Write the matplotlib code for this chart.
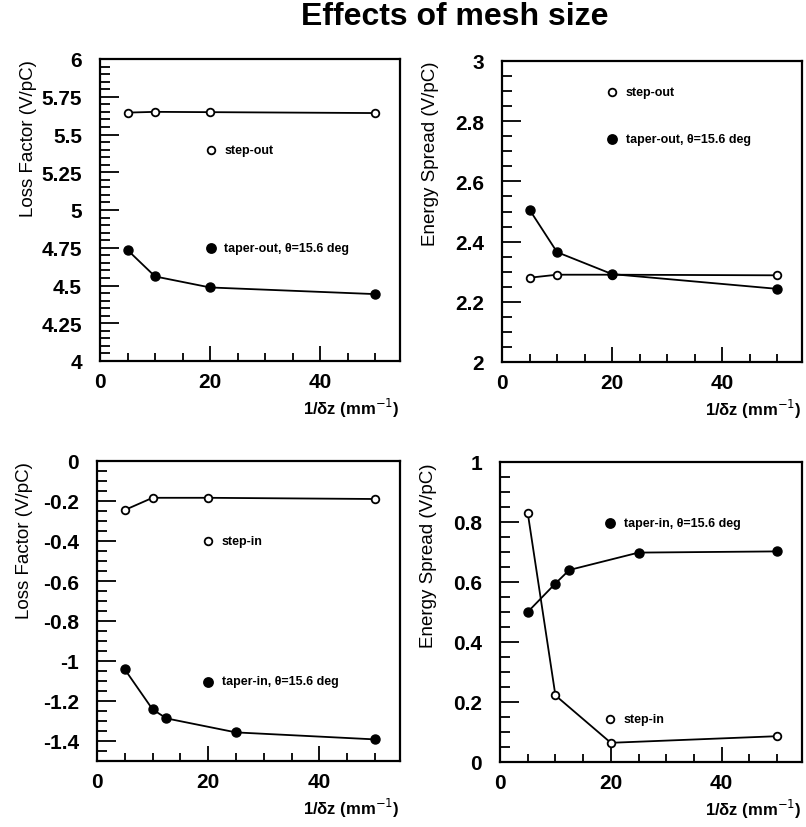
#!/usr/bin/python3

import numpy as np
import matplotlib.pyplot as plt
from matplotlib.ticker import MultipleLocator

plt.rcParams['font.family'] = ['Liberation Sans', 'DejaVu Sans']

### mesh data: 1/dz values and wake results
x_out = [5, 10, 20, 50]
step_out_loss = [5.645, 5.65, 5.648, 5.642]
taper_out_loss = [4.735, 4.56, 4.487, 4.443]
step_out_spread = [2.28, 2.29, 2.29, 2.288]
taper_out_spread = [2.506, 2.365, 2.292, 2.243]

x_step_in = [5, 10, 20, 50]
x_taper_in = [5, 10, 12.5, 25, 50]
step_in_loss = [-0.245, -0.184, -0.184, -0.19]
taper_in_loss = [-1.042, -1.242, -1.287, -1.357, -1.392]
step_in_spread = [0.831, 0.222, 0.064, 0.086]
taper_in_spread = [0.5, 0.595, 0.64, 0.698, 0.702]

xlabel = '1/δz (mm$^{-1}$)'
lab_open_out = 'step-out'
lab_fill_out = 'taper-out, θ=15.6 deg'
lab_open_in = 'step-in'
lab_fill_in = 'taper-in, θ=15.6 deg'


def setup_axis(ax, ylim, ymajor, yminor, ylabel, yfmt):
    ax.set_xlim(0, 54.5)
    ax.set_ylim(*ylim)
    ax.xaxis.set_major_locator(MultipleLocator(20))
    ax.xaxis.set_minor_locator(MultipleLocator(5))
    ax.yaxis.set_major_locator(MultipleLocator(ymajor))
    ax.yaxis.set_minor_locator(MultipleLocator(yminor))
    ax.yaxis.set_major_formatter(plt.FuncFormatter(yfmt))
    ax.tick_params(which='both', direction='in', width=1.3)
    ax.tick_params(axis='y', which='major', length=14, pad=13, labelsize=15)
    ax.tick_params(axis='y', which='minor', length=7)
    ax.tick_params(axis='x', which='major', length=11, pad=8, labelsize=15)
    ax.tick_params(axis='x', which='minor', length=6)
    for t in ax.get_xticklabels() + ax.get_yticklabels():
        t.set_fontweight('bold')
    for sp in ax.spines.values():
        sp.set_linewidth(1.6)
    ax.set_ylabel(ylabel, fontsize=13.5, loc='top')
    ax.yaxis.set_label_coords(-0.21, 1.0)
    ax.text(1.0, -0.115, xlabel, transform=ax.transAxes, ha='right', va='top',
            fontsize=12, fontweight='bold')


def series(ax, x, y, filled):
    if filled:
        ax.plot(x, y, '-o', color='k', lw=1.3, ms=6.5, mfc='k')
    else:
        ax.plot(x, y, '-o', color='k', lw=1.3, ms=5.5, mfc='white', mew=1.3)


def key(ax, fx, fy, label, filled):
    ax.plot(fx, fy, 'o', color='k', ms=6.5 if filled else 5.5,
            mfc='k' if filled else 'white', mew=1.3, transform=ax.transAxes)
    ax.text(fx + 0.045, fy, label, transform=ax.transAxes, va='center',
            fontsize=9, fontweight='bold')


def fmt_plain(v, pos):
    s = ('%.2f' % v).rstrip('0').rstrip('.')
    return '0' if s in ('-0', '0') else s


fig = plt.figure(figsize=(8.06, 8.28), dpi=100)
W, H = 806.0, 828.0

def add_axes(left, top, right, bottom):
    return fig.add_axes([left / W, 1 - bottom / H, (right - left) / W, (bottom - top) / H])

ax1 = add_axes(100, 60, 400, 362)
ax2 = add_axes(502, 62, 802, 363)
ax3 = add_axes(97, 462, 400, 762)
ax4 = add_axes(500, 463, 802, 763)

# top left: loss factor, out transitions
setup_axis(ax1, (4, 6), 0.25, 0.05, 'Loss Factor (V/pC)', fmt_plain)
series(ax1, x_out, step_out_loss, False)
series(ax1, x_out, taper_out_loss, True)
key(ax1, 0.37, 0.70, lab_open_out, False)
key(ax1, 0.37, 0.375, lab_fill_out, True)

# top right: energy spread, out transitions
setup_axis(ax2, (2, 3), 0.2, 0.05, 'Energy Spread (V/pC)', fmt_plain)
series(ax2, x_out, step_out_spread, False)
series(ax2, x_out, taper_out_spread, True)
key(ax2, 0.367, 0.897, lab_open_out, False)
key(ax2, 0.367, 0.742, lab_fill_out, True)

# bottom left: loss factor, in transitions
setup_axis(ax3, (-1.5, 0), 0.2, 0.05, 'Loss Factor (V/pC)', fmt_plain)
series(ax3, x_step_in, step_in_loss, False)
series(ax3, x_taper_in, taper_in_loss, True)
key(ax3, 0.367, 0.735, lab_open_in, False)
key(ax3, 0.367, 0.265, lab_fill_in, True)

# bottom right: energy spread, in transitions
setup_axis(ax4, (0, 1), 0.2, 0.05, 'Energy Spread (V/pC)', fmt_plain)
series(ax4, x_step_in, step_in_spread, False)
series(ax4, x_taper_in, taper_in_spread, True)
key(ax4, 0.364, 0.796, lab_fill_in, True)
key(ax4, 0.364, 0.144, lab_open_in, False)

fig.text(455 / W, 1 - 17 / H, 'Effects of mesh size', ha='center', va='center',
         fontsize=23, fontweight='bold')

plt.savefig('out.png', dpi=100)
